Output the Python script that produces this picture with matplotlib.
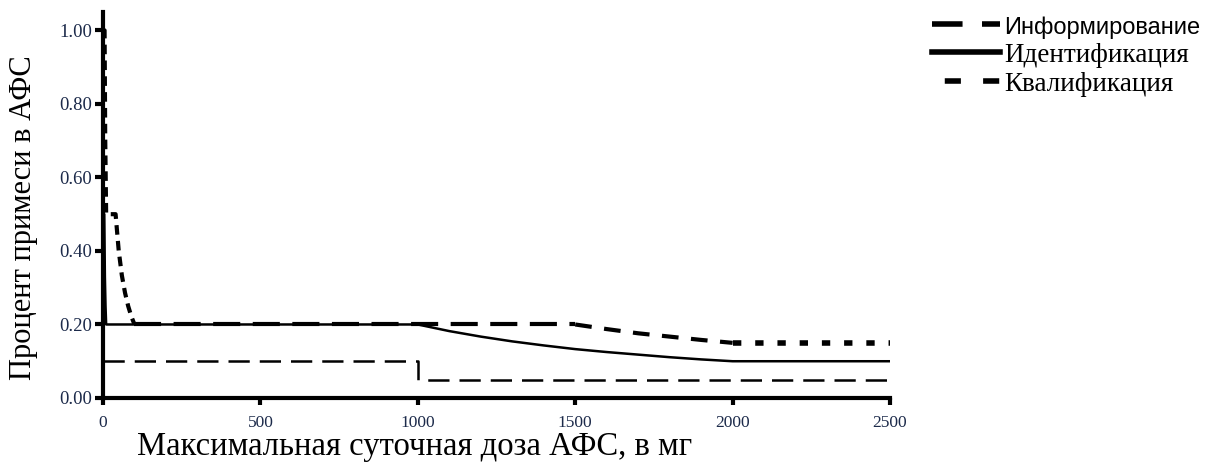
import matplotlib.pyplot as plt
from matplotlib.lines import Line2D

# пороги примесей (ICH Q3A), % от АФС
inf_x = [0, 1000, 1000, 2500]
inf_y = [0.10, 0.10, 0.05, 0.05]

ident_x = [0, 1, 1, 4, 6, 8, 10, 1000, 1100, 1200, 1300, 1400, 1500, 1600, 1700, 1800, 1900, 2000, 2500]
ident_y = [1.0, 1.0, 0.5, 0.5, 0.33, 0.25, 0.2, 0.2, 0.182, 0.167, 0.154, 0.143, 0.133, 0.125, 0.118, 0.111, 0.105, 0.10, 0.10]

qual_x = [0, 5, 7, 10, 40, 50, 60, 70, 80, 90, 100, 1000, 1500, 1600, 1700, 1800, 1900, 2000, 2500]
qual_y = [1.0, 1.0, 0.71, 0.5, 0.5, 0.4, 0.333, 0.286, 0.25, 0.222, 0.2, 0.2, 0.2, 0.1875, 0.176, 0.167, 0.158, 0.15, 0.15]

labels = ['Информирование', 'Идентификация', 'Квалификация']
xticks = [0, 500, 1000, 1500, 2000, 2500]
yticks = [0.0, 0.2, 0.4, 0.6, 0.8, 1.0]

serif = 'Liberation Serif'
tick_col = '#1c2a4a'

fig = plt.figure(figsize=(12.15, 4.74), dpi=100)
ax = fig.add_axes([103 / 1215, 1 - 398 / 474, 787 / 1215, 386 / 474])

ax.plot(inf_x, inf_y, color='black', lw=1.8, ls=(0, (8.5, 4)))
ax.plot(ident_x, ident_y, color='black', lw=1.8, ls='-')

# у Excel пунктир квалификации меняется по участкам
i100 = qual_x.index(100)
i1500 = qual_x.index(1500)
i2000 = qual_x.index(2000)
ax.plot(qual_x[:i100 + 1], qual_y[:i100 + 1], color='black', lw=3, ls=(0, (2.3, 1.5)))
ax.plot(qual_x[i100:i1500 + 1], qual_y[i100:i1500 + 1], color='black', lw=3, ls=(0, (6.5, 3)))
ax.plot(qual_x[i1500:i2000 + 1], qual_y[i1500:i2000 + 1], color='black', lw=3, ls=(0, (4, 3)))
ax.plot(qual_x[i2000:], qual_y[i2000:], color='black', lw=4, ls=(0, (1.5, 2.5)))

ax.set_xlim(0, 2500)
ax.set_ylim(0, 1.05)
ax.set_xticks(xticks)
ax.set_yticks(yticks)
ax.set_yticklabels(['%.2f' % v for v in yticks])
for lab in ax.get_xticklabels():
    lab.set_fontfamily(serif)
    lab.set_fontsize(12.5)
    lab.set_color(tick_col)
for lab in ax.get_yticklabels():
    lab.set_fontfamily(serif)
    lab.set_fontsize(13.5)
    lab.set_color(tick_col)
ax.tick_params(axis='y', direction='out', length=6, width=3, pad=2)
ax.tick_params(axis='x', direction='out', length=5, width=3, pad=7)

for s in ['top', 'right']:
    ax.spines[s].set_visible(False)
for s in ['left', 'bottom']:
    ax.spines[s].set_linewidth(3)

fig.text(0.019, 0.54, 'Процент примеси в АФС', rotation=90, ha='center', va='center',
         fontsize=22, family=serif)
fig.text(0.3416, 0.057, 'Максимальная суточная доза АФС, в мг', ha='center', va='center',
         fontsize=23.5, family=serif)

handles = [
    Line2D([], [], color='black', lw=4, ls=(0, (5.5, 3.5))),
    Line2D([], [], color='black', lw=4, ls='-'),
    Line2D([], [], color='black', lw=4, ls=(4.6, (2.9, 4))),
]
leg = fig.legend(handles, labels, loc='upper left', bbox_to_anchor=(908 / 1215, 1.02),
                 frameon=False, handlelength=2.5, handletextpad=0.15, labelspacing=0.15,
                 fontsize=19.5)
fams = ['Liberation Sans', serif, serif]
sizes = [17, 19.5, 19.5]
for t, f, sz in zip(leg.get_texts(), fams, sizes):
    t.set_fontfamily(f)
    t.set_fontsize(sz)

fig.savefig('out.png', dpi=100)
